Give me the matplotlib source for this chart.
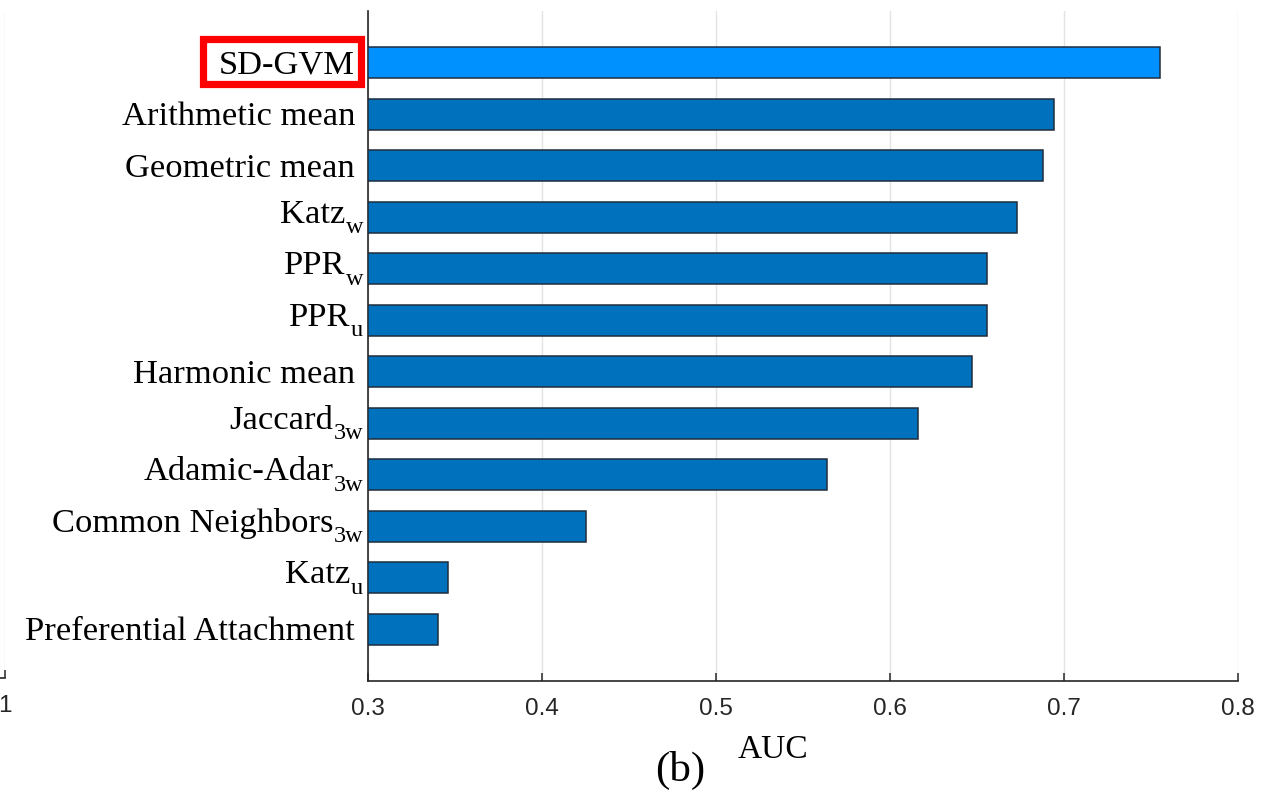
import matplotlib
matplotlib.use("Agg")
import matplotlib.pyplot as plt
from matplotlib.patches import Rectangle
from matplotlib.transforms import offset_copy
import numpy as np

# Methods (top to bottom), their subscripts and AUC scores
methods = [
    "SD-GVM",
    "Arithmetic mean",
    "Geometric mean",
    "Katz",
    "PPR",
    "PPR",
    "Harmonic mean",
    "Jaccard",
    "Adamic-Adar",
    "Common Neighbors",
    "Katz",
    "Preferential Attachment",
]
subscripts = ["", "", "", "w", "w", "u", "", "3w", "3w", "3w", "u", ""]
auc = [0.755, 0.694, 0.688, 0.673, 0.656, 0.656, 0.647, 0.616, 0.564, 0.425, 0.346, 0.340]
x_ticks = [0.3, 0.4, 0.5, 0.6, 0.7, 0.8]
x_tick_labels = ["0.3", "0.4", "0.5", "0.6", "0.7", "0.8"]

W, H = 1282, 793
fig = plt.figure(figsize=(W / 100, H / 100), dpi=100)

axis_color = "#262626"
grid_color = "#e3e3e3"
bar_color = "#0072BD"
best_color = "#0091FF"
edge_color = "#1f2d3d"
serif = "Liberation Serif"
sans = "Liberation Sans"
label_size = 24.8
sub_size = 17.5

# main panel
ax = fig.add_axes([368 / W, 1 - 681 / H, (1238 - 368) / W, (681 - 11) / H])
n = len(methods)
ypos = np.arange(n, 0, -1)
colors = [best_color] + [bar_color] * (n - 1)
ax.barh(ypos, [v - 0.3 for v in auc], left=0.3, height=0.6,
        color=colors, edgecolor=edge_color, linewidth=1.1, zorder=3)

ax.set_xlim(0.3, 0.8)
ax.set_ylim(0, n + 1)
ax.set_xticks(x_ticks)
ax.set_xticklabels(x_tick_labels, fontfamily=sans, fontsize=17.5, color=axis_color)
ax.set_yticks([])
ax.tick_params(axis="x", direction="in", length=5.5, width=1.1, color=axis_color, pad=12)
ax.grid(axis="x", color=grid_color, linewidth=1.0, zorder=0)
for side in ("top", "right"):
    ax.spines[side].set_visible(False)
for side in ("left", "bottom"):
    ax.spines[side].set_color(axis_color)
    ax.spines[side].set_linewidth(1.2)

fig.canvas.draw()
renderer = fig.canvas.get_renderer()

# category labels, with lowered subscripts where needed
label_artists = []
for name, sub, y in zip(methods, subscripts, ypos):
    if sub:
        s = ax.text(0.3, y, sub, fontfamily=serif, fontsize=sub_size, ha="right",
                    va="baseline",
                    transform=offset_copy(ax.transData, fig, x=-5, y=-16, units="dots"))
        sw = s.get_window_extent(renderer).width
        t = ax.text(0.3, y, name, fontfamily=serif, fontsize=label_size, ha="right",
                    va="baseline",
                    transform=offset_copy(ax.transData, fig, x=-5 - sw, y=-5.5,
                                          units="dots"))
    else:
        t = ax.text(0.3, y, name, fontfamily=serif, fontsize=label_size, ha="right",
                    va="baseline",
                    transform=offset_copy(ax.transData, fig, x=-13, y=-11, units="dots"))
    label_artists.append(t)

fig.text(773 / W, 1 - 758 / H, "AUC", fontfamily=serif, fontsize=24,
         ha="center", va="baseline")
fig.text(680 / W, 1 - 781 / H, "(b)", fontfamily=serif, fontsize=31,
         ha="center", va="baseline")

# edge of the neighbouring panel on the left
ax_left = fig.add_axes([-300 / W, 1 - 678 / H, 305 / W, (678 - 11) / H])
ax_left.set_xlim(0, 1)
ax_left.set_ylim(0, 1)
ax_left.set_xticks([1])
ax_left.set_xticklabels(["1"], fontfamily=sans, fontsize=17.5, color=axis_color)
ax_left.set_yticks([])
ax_left.tick_params(axis="x", direction="in", length=5.5, width=1.1, color=axis_color, pad=12)
ax_left.grid(axis="x", color=grid_color, linewidth=1.0)
for side in ("top", "right", "left"):
    ax_left.spines[side].set_visible(False)
ax_left.spines["bottom"].set_color(axis_color)
ax_left.spines["bottom"].set_linewidth(1.2)

# red frame around the proposed method's label
fig.canvas.draw()
bb = label_artists[0].get_window_extent(renderer)
yc = ax.transData.transform((0.3, ypos[0]))[1]
x0, x1 = bb.x0 - 16.5, bb.x1 + 6.5
y0, y1 = yc - 21.5, yc + 23.5
fig.patches.append(Rectangle((x0 / W, y0 / H), (x1 - x0) / W, (y1 - y0) / H,
                             transform=fig.transFigure, fill=False,
                             edgecolor="#ff0000", linewidth=5.2, zorder=5))

fig.savefig("out.png", dpi=100)
